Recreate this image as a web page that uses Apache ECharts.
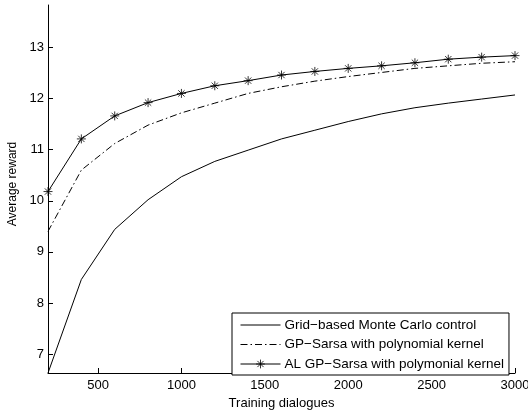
<!DOCTYPE html>
<html>
<head>
<meta charset="utf-8">
<script src="https://cdn.jsdelivr.net/npm/echarts@6/dist/echarts.min.js"></script>
<style>
  html, body { margin: 0; padding: 0; background: #fff; }
  #chart { width: 528px; height: 410px; }
</style>
</head>
<body>
<div id="chart"></div>
<script>
var dialogues = [200, 400, 600, 800, 1000, 1200, 1400, 1600, 1800, 2000, 2200, 2400, 2600, 2800, 3000];
var gridMC = [6.63, 8.46, 9.44, 10.02, 10.47, 10.77, 10.99, 11.21, 11.38, 11.55, 11.70, 11.82, 11.91, 11.99, 12.07];
var gpSarsa = [9.40, 10.60, 11.12, 11.48, 11.72, 11.91, 12.10, 12.23, 12.34, 12.43, 12.51, 12.59, 12.64, 12.69, 12.72];
var alGpSarsa = [10.18, 11.21, 11.66, 11.92, 12.10, 12.25, 12.35, 12.46, 12.53, 12.59, 12.64, 12.70, 12.77, 12.81, 12.84];
var xTicks = [500, 1000, 1500, 2000, 2500, 3000];
var yTicks = [7, 8, 9, 10, 11, 12, 13];
var names = ['Grid−based Monte Carlo control', 'GP−Sarsa with polynomial kernel', 'AL GP−Sarsa with polymonial kernel'];

function pairs(ys) {
    return dialogues.map(function (x, i) { return [x, ys[i]]; });
}

var myChart = echarts.init(document.getElementById('chart'));
var font = 'Liberation Sans';
var star = 'path://M-1,0L1,0M0,-1L0,1M-0.7,-0.7L0.7,0.7M-0.7,0.7L0.7,-0.7';

var option = {
    animation: false,
    textStyle: { fontFamily: font, color: '#000' },
    grid: { left: 48, right: 13, top: 5, bottom: 37, outerBoundsMode: 'none' },
    legend: {
        orient: 'vertical',
        left: 232,
        top: 313,
        padding: [5, 5, 4, 8],
        itemWidth: 40,
        itemHeight: 11,
        itemGap: 5.5,
        borderColor: '#000',
        borderWidth: 1,
        backgroundColor: '#fff',
        selectedMode: false,
        lineStyle: { width: 1 },
        textStyle: { fontFamily: font, fontSize: 13.5, color: '#000', padding: [0, 0, 0, -1] },
        data: [
            { name: names[0], itemStyle: { opacity: 0 } },
            { name: names[1], itemStyle: { opacity: 0 } },
            { name: names[2], itemStyle: { borderWidth: 0.8 } }
        ]
    },
    xAxis: {
        type: 'value',
        min: 200,
        max: 3000,
        name: 'Training dialogues',
        nameLocation: 'middle',
        nameGap: 22,
        nameTextStyle: { fontSize: 13, color: '#000' },
        splitLine: { show: false },
        axisLine: { lineStyle: { color: '#000', width: 1 } },
        axisTick: { inside: true, length: 5, customValues: xTicks, lineStyle: { color: '#000' } },
        axisLabel: {
            customValues: xTicks, fontSize: 13, color: '#000', margin: 6,
            formatter: function (v) { return String(v); }
        }
    },
    yAxis: {
        type: 'value',
        min: 6.63,
        max: 13.83,
        name: 'Average reward',
        nameLocation: 'middle',
        nameGap: 29,
        nameTextStyle: { fontSize: 12, color: '#000', padding: [0, 0, 0, 10] },
        splitLine: { show: false },
        axisLine: { show: true, lineStyle: { color: '#000', width: 1 } },
        axisTick: { show: true, inside: true, length: 5, customValues: yTicks, lineStyle: { color: '#000' } },
        axisLabel: { customValues: yTicks, fontSize: 13, color: '#000', margin: 4 }
    },
    series: [{
        name: names[0],
        type: 'line',
        data: pairs(gridMC),
        symbol: 'none',
        lineStyle: { color: '#000', width: 1 },
        itemStyle: { color: '#000' }
    }, {
        name: names[1],
        type: 'line',
        data: pairs(gpSarsa),
        symbol: 'none',
        lineStyle: { color: '#000', width: 1, type: [7, 3, 1.5, 3] },
        itemStyle: { color: '#000' }
    }, {
        name: names[2],
        type: 'line',
        data: pairs(alGpSarsa),
        symbol: star,
        symbolSize: 9,
        lineStyle: { color: '#000', width: 1 },
        itemStyle: { color: '#000', borderColor: '#000', borderWidth: 0.8 }
    }]
};

myChart.setOption(option);
</script>
</body>
</html>
